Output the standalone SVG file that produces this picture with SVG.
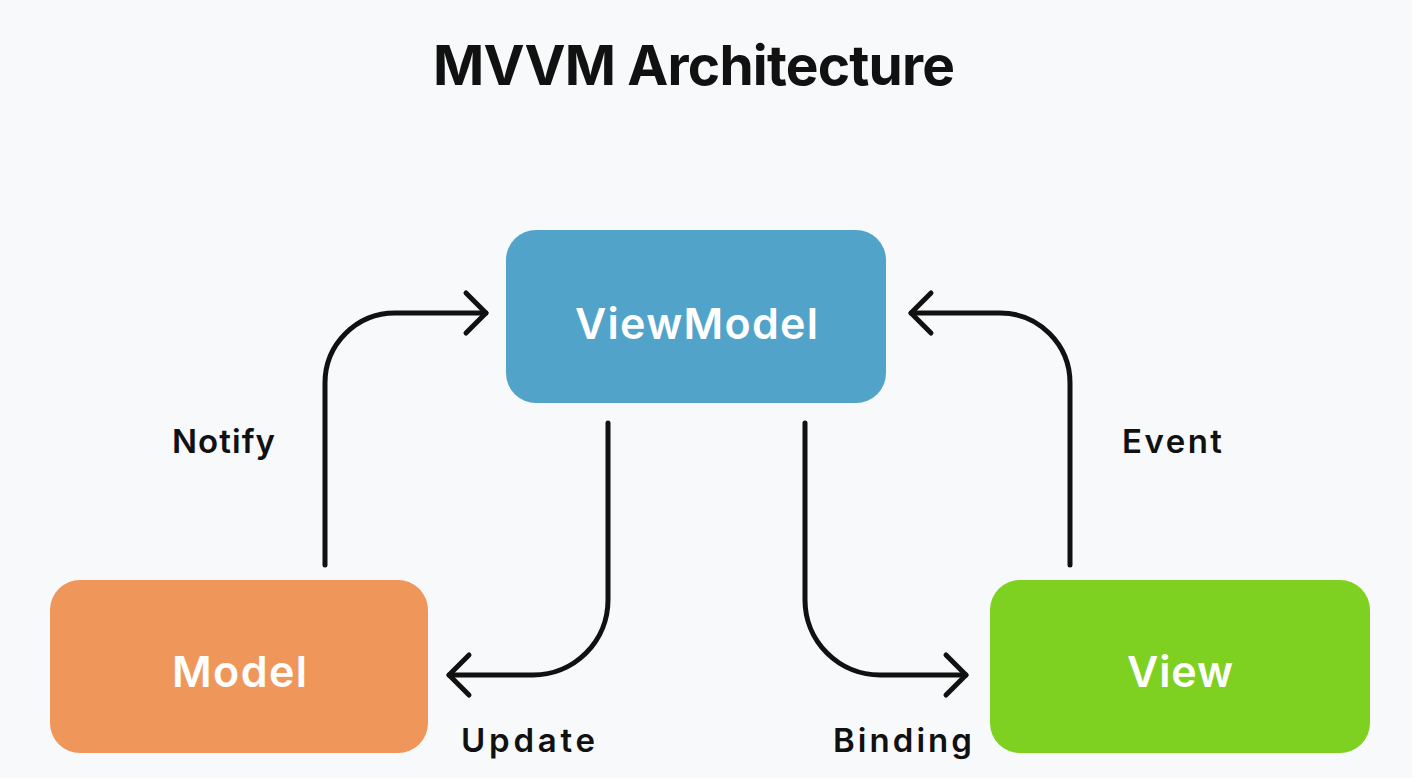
<svg xmlns="http://www.w3.org/2000/svg" width="1412" height="778" viewBox="0 0 1412 778">
  <style>
    .title { font-family: Inter, "Liberation Sans", sans-serif; font-weight: 700; font-size: 55px; fill: #111; }
    .node-text { font-family: Inter, "Liberation Sans", sans-serif; font-weight: 600; font-size: 43px; fill: #ffffff; }
    .label { font-family: Inter, "Liberation Sans", sans-serif; font-weight: 600; font-size: 33px; fill: #111; }
    .conn { fill: none; stroke: #111; stroke-width: 5; stroke-linecap: round; marker-end: url(#arr); }
  </style>
  <defs>
    <marker id="arr" viewBox="-25 -25 30 50" markerWidth="30" markerHeight="50" refX="0" refY="0" orient="auto" markerUnits="userSpaceOnUse">
      <path d="M-20,-20 L0,0 L-20,20" fill="none" stroke="#111" stroke-width="5" stroke-linecap="round" stroke-linejoin="round"/>
    </marker>
  </defs>
  <rect width="1412" height="778" fill="#f8f9fa"/>
  <text class="title" x="433" y="85" textLength="522" lengthAdjust="spacing">MVVM Architecture</text>

  <g id="viewmodel">
    <rect x="506" y="230" width="380" height="173" rx="30" fill="#52a3c9"/>
    <text class="node-text" x="575" y="339" textLength="243" lengthAdjust="spacing">ViewModel</text>
  </g>
  <g id="model">
    <rect x="50" y="580" width="378" height="173" rx="30" fill="#ef975a"/>
    <text class="node-text" x="172" y="687" textLength="135" lengthAdjust="spacing">Model</text>
  </g>
  <g id="view">
    <rect x="990" y="580" width="380" height="173" rx="30" fill="#7ed021"/>
    <text class="node-text" x="1127" y="687" textLength="106" lengthAdjust="spacing">View</text>
  </g>

  <g id="connectors">
    <path class="conn" d="M325,565 L325,383 A70,70 0 0 1 395,313 L486,313"/>
    <path class="conn" d="M608,423 L608,600 A75,75 0 0 1 533,675 L449,675"/>
    <path class="conn" d="M805,423 L805,600 A75,75 0 0 0 880,675 L966,675"/>
    <path class="conn" d="M1070,565 L1070,383 A70,70 0 0 0 1000,313 L911,313"/>
    <text class="label" x="172" y="453" textLength="103" lengthAdjust="spacing">Notify</text>
    <text class="label" x="1122" y="453" textLength="100" lengthAdjust="spacing">Event</text>
    <text class="label" x="461" y="752" textLength="134" lengthAdjust="spacing">Update</text>
    <text class="label" x="833" y="752" textLength="139" lengthAdjust="spacing">Binding</text>
  </g>
</svg>
